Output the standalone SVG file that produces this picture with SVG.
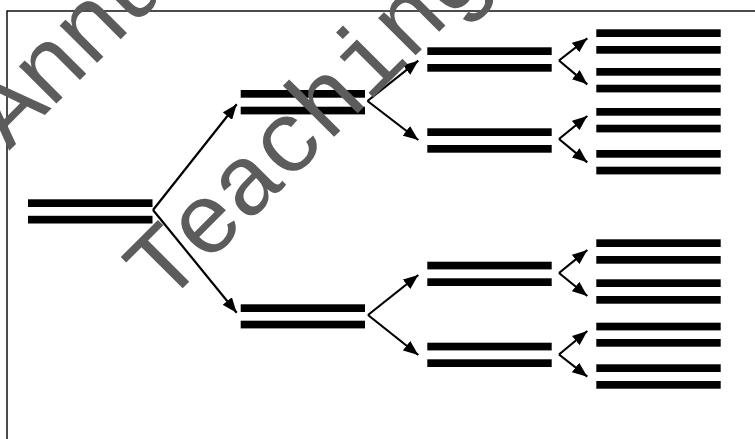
<svg xmlns="http://www.w3.org/2000/svg" width="755" height="439" viewBox="0 0 755 439">
<style>
.bar{fill:#000}
.con line{stroke:#000;stroke-width:2.2;fill:none;marker-end:url(#ah)}
.wm{font-family:"Liberation Mono","Courier New",monospace;font-size:100px;letter-spacing:-2.4px;fill:#5c5c5c}
</style>
<defs>
<marker id="ah" markerUnits="userSpaceOnUse" markerWidth="15" markerHeight="12" refX="15" refY="6" orient="auto">
<path d="M0,0 L15,6 L0,12 z" fill="#000"/>
</marker>
</defs>
<rect x="7" y="11" width="760" height="440" fill="#fff" stroke="#000" stroke-width="1.4"/>
<g id="n1"><rect class="bar" x="28" y="199.3" width="124.5" height="7.7"/><rect class="bar" x="28" y="215.8" width="124.5" height="7.7"/></g>
<g id="n2a"><rect class="bar" x="240.7" y="90" width="124.3" height="7.7"/><rect class="bar" x="240.7" y="106.7" width="124.3" height="7.7"/></g>
<g id="n2b"><rect class="bar" x="240.7" y="304.3" width="124.3" height="7.7"/><rect class="bar" x="240.7" y="320.7" width="124.3" height="7.7"/></g>
<g id="n3a"><rect class="bar" x="427.3" y="47.3" width="124.4" height="7.7"/><rect class="bar" x="427.3" y="64" width="124.4" height="7.7"/></g>
<g id="n3b"><rect class="bar" x="427.3" y="128.3" width="124.4" height="7.7"/><rect class="bar" x="427.3" y="145" width="124.4" height="7.7"/></g>
<g id="n3c"><rect class="bar" x="427.3" y="261.7" width="124.4" height="7.7"/><rect class="bar" x="427.3" y="278.3" width="124.4" height="7.7"/></g>
<g id="n3d"><rect class="bar" x="427.3" y="342.7" width="124.4" height="7.7"/><rect class="bar" x="427.3" y="359.3" width="124.4" height="7.7"/></g>
<g id="n4a"><rect class="bar" x="596.3" y="29.3" width="124.4" height="7.7"/><rect class="bar" x="596.3" y="46" width="124.4" height="7.7"/></g>
<g id="n4b"><rect class="bar" x="596.3" y="68" width="124.4" height="7.7"/><rect class="bar" x="596.3" y="84.7" width="124.4" height="7.7"/></g>
<g id="n4c"><rect class="bar" x="596.3" y="108" width="124.4" height="7.7"/><rect class="bar" x="596.3" y="124.7" width="124.4" height="7.7"/></g>
<g id="n4d"><rect class="bar" x="596.3" y="150" width="124.4" height="7.7"/><rect class="bar" x="596.3" y="166.7" width="124.4" height="7.7"/></g>
<g id="n4e"><rect class="bar" x="596.3" y="239.3" width="124.4" height="7.7"/><rect class="bar" x="596.3" y="256" width="124.4" height="7.7"/></g>
<g id="n4f"><rect class="bar" x="596.3" y="279.3" width="124.4" height="7.7"/><rect class="bar" x="596.3" y="296" width="124.4" height="7.7"/></g>
<g id="n4g"><rect class="bar" x="596.3" y="322.7" width="124.4" height="7.7"/><rect class="bar" x="596.3" y="339" width="124.4" height="7.7"/></g>
<g id="n4h"><rect class="bar" x="596.3" y="364.3" width="124.4" height="7.7"/><rect class="bar" x="596.3" y="381" width="124.4" height="7.7"/></g>
<g id="connectors" class="con">
<line x1="153" y1="210" x2="236.7" y2="104.3"/>
<line x1="153" y1="210" x2="236.7" y2="312.7"/>
<line x1="367.5" y1="101" x2="418.3" y2="60.7"/>
<line x1="367.5" y1="101" x2="418.3" y2="140"/>
<line x1="368" y1="315" x2="418.3" y2="275"/>
<line x1="368" y1="315" x2="418.3" y2="355"/>
<line x1="559" y1="60.5" x2="587.3" y2="38.3"/>
<line x1="559" y1="60.5" x2="587.3" y2="84.3"/>
<line x1="559" y1="139" x2="587.3" y2="116"/>
<line x1="559" y1="139" x2="587.3" y2="162.3"/>
<line x1="559" y1="273" x2="587.3" y2="250"/>
<line x1="559" y1="273" x2="587.3" y2="296"/>
<line x1="559" y1="354.5" x2="587.3" y2="331"/>
<line x1="559" y1="354.5" x2="587.3" y2="376.7"/>
</g>
<g id="watermark">
<text class="wm" transform="translate(9.3,150.7) rotate(-45)">Annu</text>
<text class="wm" transform="translate(164.8,306.2) rotate(-45)">Teaching</text>
</g>
</svg>
